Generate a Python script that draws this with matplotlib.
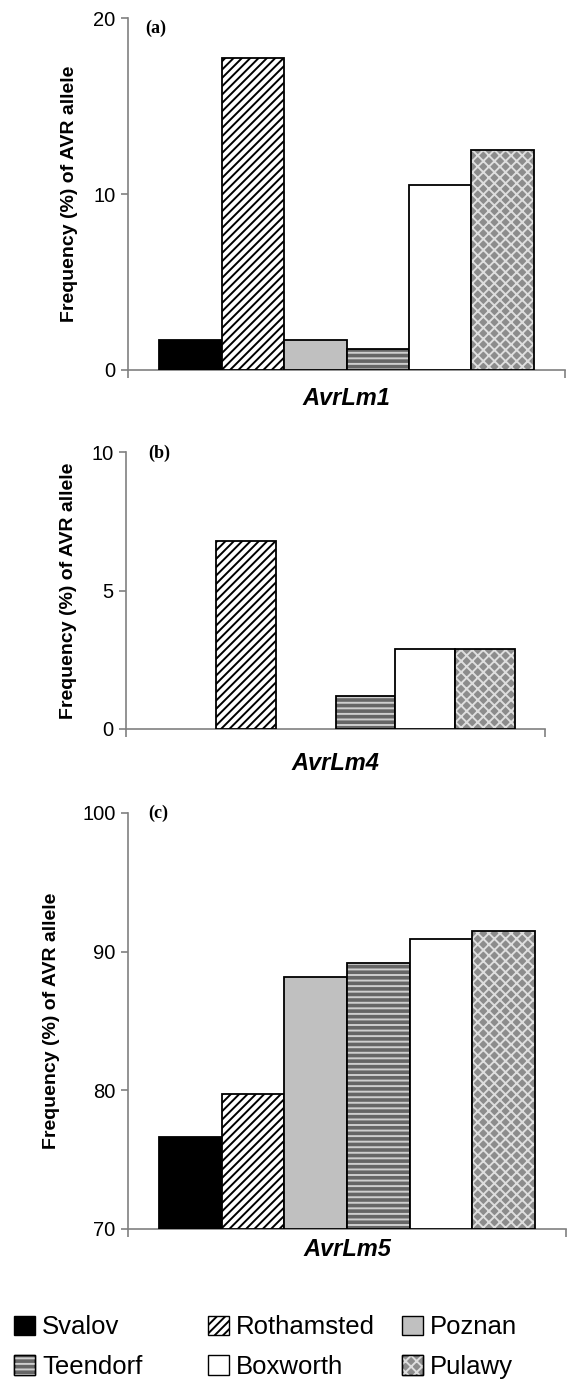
import numpy as np
import matplotlib
matplotlib.use('Agg')
import matplotlib.pyplot as plt
from matplotlib.patches import Patch
from matplotlib.legend_handler import HandlerTuple

plt.rcParams['font.family'] = ['Liberation Sans', 'DejaVu Sans']
plt.rcParams['hatch.linewidth'] = 1.4

sites = ['Svalov', 'Rothamsted', 'Poznan', 'Teendorf', 'Boxworth', 'Pulawy']
genes = ['AvrLm1', 'AvrLm4', 'AvrLm5']
panels = ['(a)', '(b)', '(c)']

# frequency (%) of AVR allele per site
avrlm1 = [1.7, 17.7, 1.7, 1.2, 10.5, 12.5]
avrlm4 = [0.0, 6.8, 0.0, 1.2, 2.9, 2.9]
avrlm5 = [76.6, 79.7, 88.2, 89.2, 90.9, 91.5]

ylims = [(0, 20), (0, 10), (70, 100)]
yticks = [[0, 10, 20], [0, 5, 10], [70, 80, 90, 100]]

# fill, hatch, hatch colour
styles = [
    dict(fc='black', hatch=None, hc=None),
    dict(fc='white', hatch='////', hc='black'),
    dict(fc='#c0c0c0', hatch=None, hc=None),
    dict(fc='#666666', hatch='---', hc='#cfcfcf'),
    dict(fc='white', hatch=None, hc=None),
    dict(fc='#8c8c8c', hatch='xxx', hc='#dedede'),
]

W, H = 567, 1381
fig = plt.figure(figsize=(W / 100, H / 100), dpi=100)

# axes boxes in pixels: left, right, top, bottom
boxes = [(128, 565, 18, 370), (126, 545, 452, 729), (128, 566, 813, 1229)]
ylab_x = [-0.114, -0.117, -0.155]
gene_y = [-0.08, -0.123, -0.05]
panel_xy = [(0.04, 0.972), (0.052, 0.995), (0.046, 1.0)]
axis_grey = '#808080'


def draw_bar(ax, xpos, val, base, st):
    if val <= base:
        return
    if st['hatch'] is not None and st['hc'] == 'black':
        ax.bar(xpos, val - base, bottom=base, width=1, color=st['fc'],
               edgecolor='black', lw=1.3, hatch=st['hatch'], zorder=3)
        return
    ax.bar(xpos, val - base, bottom=base, width=1, color=st['fc'], lw=0, zorder=3)
    if st['hatch'] is not None:
        ax.bar(xpos, val - base, bottom=base, width=1, facecolor='none',
               edgecolor=st['hc'], lw=0, hatch=st['hatch'], zorder=3)
    ax.bar(xpos, val - base, bottom=base, width=1, facecolor='none',
           edgecolor='black', lw=1.3, zorder=3)


for k, vals in enumerate([avrlm1, avrlm4, avrlm5]):
    l, r, t, b = boxes[k]
    ax = fig.add_axes([l / W, 1 - b / H, (r - l) / W, (b - t) / H])
    base = ylims[k][0]
    x = np.arange(len(sites))
    for i in range(len(sites)):
        draw_bar(ax, x[i], vals[i], base, styles[i])
    ax.set_xlim(-1, len(sites))
    ax.set_ylim(*ylims[k])
    ax.set_yticks(yticks[k])
    ax.set_xticks([-1, len(sites)])
    ax.set_xticklabels(['', ''])
    for s in ['top', 'right']:
        ax.spines[s].set_visible(False)
    for s in ['left', 'bottom']:
        ax.spines[s].set_color(axis_grey)
        ax.spines[s].set_linewidth(1.2)
    ax.tick_params(axis='y', direction='out', length=5, width=1.2,
                   color=axis_grey, labelsize=14.5, pad=4)
    ax.tick_params(axis='x', direction='out', length=6, width=1.2,
                   color=axis_grey)
    ax.set_ylabel('Frequency (%) of AVR allele', fontsize=14,
                  fontweight='bold')
    ax.yaxis.set_label_coords(ylab_x[k], 0.5)
    ax.text(0.5, gene_y[k], genes[k], transform=ax.transAxes, ha='center',
            va='center', fontsize=17, fontweight='bold', style='italic')
    ax.text(panel_xy[k][0], panel_xy[k][1], panels[k], transform=ax.transAxes,
            ha='left', va='center', fontsize=13, fontweight='bold',
            family='Liberation Serif')


def handle(st):
    if st['hatch'] is not None and st['hc'] != 'black':
        return (Patch(facecolor=st['fc'], edgecolor='black', lw=1.0),
                Patch(facecolor='none', edgecolor=st['hc'], lw=0, hatch=st['hatch']),
                Patch(facecolor='none', edgecolor='black', lw=1.0))
    return Patch(facecolor=st['fc'], edgecolor='black', lw=1.0, hatch=st['hatch'])


# legend: 3 columns, 2 rows (row-wise order)
col_x = [14, 208, 402]
for c in range(3):
    idx = [c, c + 3]
    hs = [handle(styles[i]) for i in idx]
    labs = [sites[i] for i in idx]
    fig.legend(hs, labs, loc='center left',
               bbox_to_anchor=(col_x[c] / W, 1 - 1347 / H),
               frameon=False, fontsize=18.5, handlelength=0.8,
               handleheight=0.8, handletextpad=0.3, labelspacing=0.6,
               borderpad=0, borderaxespad=0,
               handler_map={tuple: HandlerTuple(ndivide=1, pad=0)})

fig.savefig('out.png', dpi=100, facecolor='white')
